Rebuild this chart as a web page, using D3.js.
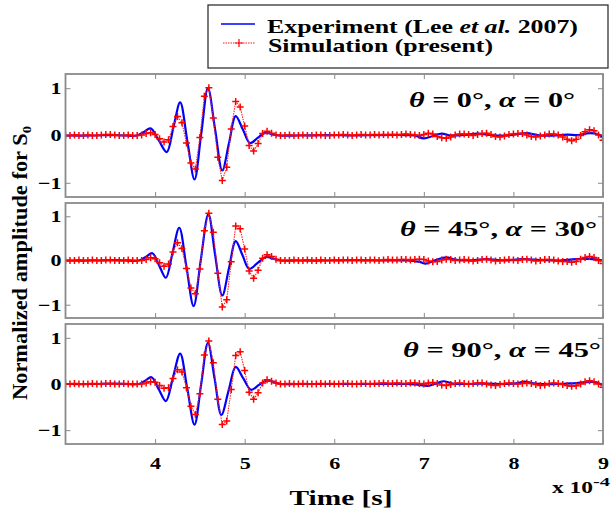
<!DOCTYPE html>
<html>
<head>
<meta charset="utf-8">
<script src="https://cdn.jsdelivr.net/npm/d3@7"></script>
<style>
  body { margin: 0; background: #fff; }
  svg text { font-family: "Liberation Serif", "Times New Roman", Times, serif; font-weight: bold; }
</style>
</head>
<body>
<div id="chart"></div>
<script>
// time is in units of 1e-4 s
var xTicks = [4, 5, 6, 7, 8, 9];
var yTicks = [-1, 0, 1];
var thetaVals = ["0", "45", "90"];
var alphaVals = ["0", "30", "45"];

// Experiment (Lee et al. 2007)
var expTime1 = [3.0,3.3,3.55,3.8, 3.875,3.95,4.04,4.13,4.205,4.28,4.36,4.44,4.515,4.59, 4.67,4.75,4.825,4.90,4.98,5.06,5.145,5.23,5.305,5.38, 5.6,5.9,6.2,6.5,6.8,6.9,7.0,7.1,7.2,7.3, 7.45,7.6,7.75,7.9,8.05,8.15,8.3,8.45,8.6,8.72, 8.85,8.95,9.0];
var expAmp1  = [0,0,0.01,0, 0.075,0.15,-0.10,-0.35,0.175,0.70,-0.115,-0.93,0.035,1.00, 0.13,-0.74,-0.165,0.41,0.125,-0.16,-0.05,0.06,0.03,0, 0,0.01,0,0.01,0.01,0,-0.06,-0.01,0.04,0, 0.01,0.04,0.01,0,0.03,0.05,0,0,0.02,0.01, 0.05,0.02,-0.04];
var expTime2 = [3.0,3.3,3.55,3.82, 3.895,3.97,4.045,4.12,4.195,4.27,4.35,4.43,4.51,4.595, 4.67,4.75,4.825,4.90,4.975,5.05,5.145,5.24,5.32,5.40, 5.6,5.9,6.2,6.5,6.8,6.95,7.02,7.12,7.25,7.35, 7.5,7.7,7.9,8.1,8.3,8.5,8.7,8.9,9.0];
var expAmp2  = [0,0,0.01,0, 0.08,0.165,-0.11,-0.39,0.175,0.74,-0.145,-1.03,0.01,1.05, 0.13,-0.79,-0.175,0.44,0.125,-0.19,-0.055,0.08,0.04,0, 0,0,0.01,0,0,-0.03,-0.07,0,0.07,0.02, 0,0.03,0,0.03,0.01,0,0.03,0.03,0];
var expTime3 = [3.0,3.3,3.55,3.82, 3.89,3.96,4.04,4.12,4.20,4.28,4.36,4.44,4.515,4.59, 4.665,4.74,4.82,4.90,4.985,5.07,5.16,5.25,5.325,5.40, 5.6,6.0,6.4,6.8,6.95,7.05,7.15,7.22,7.32, 7.5,7.7,7.9,8.05,8.12,8.25,8.5,8.7,8.9,9.0];
var expAmp3  = [0,0,0.01,0, 0.073,0.146,-0.112,-0.37,0.145,0.66,-0.11,-0.88,0.005,0.89, 0.11,-0.67,-0.15,0.37,0.12,-0.125,-0.02,0.08,0.04,0, 0,0,0,0,-0.02,-0.04,0.02,0.06,0.01, 0,0.01,0,0.02,0.05,0.01,0,0.02,0.04,-0.02];

// Simulation (present), sampled every 0.05e-4 s from 3e-4 to 9e-4 s
var simStart = 3, simStep = 0.05;
var simAmp1 = [0,0,0.01,0,0,0.01,0,0,0.01,0.02,0.02,0.01,0,0,0.01,0,
  0,0.01,0.04,0.06,0.02,-0.07,-0.14,-0.09,0.19,0.40,0.27,-0.16,-0.58,-0.71,-0.04,0.83,1.01,0.37,-0.46,-0.95,-0.67,0.14,0.72,0.60,0.20,-0.21,-0.33,-0.17,0.04,0.09,0.05,0.01,0,
  0,0.01,0,0,0.01,0,0,0.01,0.01,0, 0,0.01,0.01,0.02,0.01,0,0.01,0.02,0.01,0.01, 0.02,0.01,0.02,0.01,0.02,0.01,0.02,0.03,0.02,0.01,
  0,0.02,0.05,0.03,-0.02,-0.05,-0.06,-0.03,0.01,0.03, 0.03,0.02,0,0.02,0.04,0.05,0.02,-0.02,-0.03,-0.01, 0.02,0.03,0.04,0.04,0.01,-0.02,-0.03,-0.01,0.01,0.03,
  0.03,0.01,-0.03,-0.08,-0.11,-0.08,0,0.08,0.12,0.10, 0.01,-0.10];
var simAmp2 = [0,0,0,0.01,0,0,0.01,0,0,0.01,0.01,0,0,0,0.01,0,
  0,0,0.02,0.06,0.04,-0.05,-0.13,-0.08,0.19,0.40,0.27,-0.18,-0.62,-0.75,-0.19,0.67,1.07,0.64,-0.29,-1.05,-0.89,-0.03,0.78,0.72,0.26,-0.24,-0.40,-0.22,0.05,0.13,0.09,0.03,0,
  0,0,0.01,0,0,0.01,0,0,0.01,0, 0,0.01,0,0.01,0.01,0,0.01,0.01,0,0.01, 0.01,0,0.01,0.02,0.01,0.01,0.02,0.02,0.01,0.02,
  0.03,0.02,-0.01,-0.03,-0.02,0.01,0.03,0.02,0,0.01, 0.02,0.01,-0.01,0,0.02,0.03,0.01,-0.01,0,0.01, 0.02,0.01,0,0.02,0.03,0.01,-0.01,0,0.02,0.02,
  0.01,-0.01,-0.02,-0.02,-0.04,-0.02,0.03,0.07,0.09,0.07, 0,-0.07];
var simAmp3 = [0,0,0.01,0,0,0,0.01,0,0,0.01,0.01,0,0,0.01,0,0,
  0,0,0.02,0.05,0.04,-0.03,-0.09,-0.08,0.12,0.31,0.26,-0.08,-0.48,-0.66,-0.21,0.63,0.93,0.46,-0.33,-0.88,-0.80,-0.12,0.62,0.70,0.29,-0.18,-0.33,-0.19,0.02,0.09,0.06,0.02,0,
  0,0.01,0,0,0.01,0,0,0,0.01,0, 0.01,0,0,0.01,0.01,0,0,0.01,0.01,0, 0.01,0.01,0.02,0.01,0.01,0.02,0.01,0.01,0.02,0.02,
  0.01,0,0.02,0.03,0.01,-0.02,-0.03,-0.01,0.01,0.02, 0.01,0,0.01,0.02,0.02,0,-0.02,-0.03,-0.01,0.01, 0.02,0.01,0,0.01,0.02,0.01,-0.01,-0.03,-0.02,0.01,
  0.02,0.01,-0.01,-0.03,-0.05,-0.04,0,0.05,0.07,0.05, 0,-0.07];

var expTimes = [expTime1, expTime2, expTime3];
var expAmps = [expAmp1, expAmp2, expAmp3];
var simAmps = [simAmp1, simAmp2, simAmp3];

//Set sizes
var width = 612, height = 518;
var xLeft = 65.5, xRight = 603;
var panelY0 = [74, 203, 324], panelY1 = [197, 318, 444];
var labelX = [409, 400, 403], labelW = [166, 197, 198];
var gridColor = "#8a8a8a";
var serif = "'Liberation Serif', 'Times New Roman', Times, serif";

var svg = d3.select("#chart").append("svg")
  .attr("width", width).attr("height", height)
  .attr("font-family", serif).attr("font-weight", "bold");
svg.append("rect").attr("width", width).attr("height", height).attr("fill", "#fff");

var x = d3.scaleLinear().domain([3, 9]).range([xLeft, xRight]);

function styleAxis(g) {
  g.select(".domain").remove();
  g.selectAll(".tick line").attr("stroke", gridColor).attr("stroke-width", 1);
  g.attr("font-family", serif).attr("font-weight", "bold");
}

function drawPanel(p) {
  var y0 = panelY0[p], y1 = panelY1[p];
  var y = d3.scaleLinear().domain([-1.3, 1.3]).range([y1, y0]);
  var g = svg.append("g");

  g.append("clipPath").attr("id", "clip" + p)
    .append("rect").attr("x", xLeft).attr("y", y0)
    .attr("width", xRight - xLeft).attr("height", y1 - y0);

  //axes with inward ticks
  g.append("g").attr("transform", "translate(0," + y1 + ")")
    .call(d3.axisBottom(x).tickValues(xTicks).tickSizeInner(-5).tickSizeOuter(0)
      .tickFormat(p == 2 ? d3.format("d") : ""))
    .call(styleAxis)
    .selectAll("text")
    .attr("y", 25).attr("dy", null)
    .attr("font-size", 17).attr("fill", "#000")
    .attr("transform", "scale(1.3,1)");
  g.append("g").attr("transform", "translate(0," + y0 + ")")
    .call(d3.axisTop(x).tickValues(xTicks).tickSizeInner(-5).tickSizeOuter(0).tickFormat(""))
    .call(styleAxis);
  g.append("g").attr("transform", "translate(" + xLeft + ",0)")
    .call(d3.axisLeft(y).tickValues(yTicks).tickSizeInner(-5).tickSizeOuter(0)
      .tickFormat(function(d){ return d < 0 ? "\u2212" + Math.abs(d) : d; }))
    .call(styleAxis)
    .selectAll("text")
    .attr("x", null)
    .attr("font-size", 17).attr("fill", "#000")
    .attr("transform", "translate(-4,0) scale(1.3,1)");
  g.append("g").attr("transform", "translate(" + xRight + ",0)")
    .call(d3.axisRight(y).tickValues(yTicks).tickSizeInner(-5).tickSizeOuter(0).tickFormat(""))
    .call(styleAxis);

  var plot = g.append("g").attr("clip-path", "url(#clip" + p + ")");

  //Experiment
  var expData = expTimes[p].map(function(t, i){ return [t, expAmps[p][i]]; });
  plot.append("path")
    .datum(expData)
    .attr("fill", "none")
    .attr("stroke", "#0000ff")
    .attr("stroke-width", 2.2)
    .attr("d", d3.line()
      .x(function(d){ return x(d[0]); })
      .y(function(d){ return y(d[1]); })
      .curve(d3.curveCatmullRom.alpha(0.5)));

  //Simulation
  var simData = simAmps[p].map(function(v, i){ return [simStart + i * simStep, v]; });
  plot.append("path")
    .datum(simData)
    .attr("fill", "none")
    .attr("stroke", "#ff2020")
    .attr("stroke-width", 1.1)
    .attr("stroke-dasharray", "1.5,1")
    .attr("d", d3.line()
      .x(function(d){ return x(d[0]); })
      .y(function(d){ return y(d[1]); }));
  plot.selectAll("path.plus")
    .data(simData)
    .enter()
    .append("path")
    .attr("class", "plus")
    .attr("d", "M-3.5,0H3.5M0,-3.5V3.5")
    .attr("transform", function(d){ return "translate(" + x(d[0]) + "," + y(d[1]) + ")"; })
    .attr("stroke", "#ff0000")
    .attr("stroke-width", 1.5)
    .attr("fill", "none");

  //frame
  g.append("rect")
    .attr("x", xLeft).attr("y", y0)
    .attr("width", xRight - xLeft).attr("height", y1 - y0)
    .attr("fill", "none")
    .attr("stroke", gridColor)
    .attr("stroke-width", 1.8);

  //panel label
  var lab = g.append("text")
    .attr("x", labelX[p]).attr("y", y0 + 33)
    .attr("font-size", 21)
    .attr("textLength", labelW[p])
    .attr("lengthAdjust", "spacingAndGlyphs");
  lab.append("tspan").attr("font-style", "italic").text("\u03b8");
  lab.append("tspan").text(" = " + thetaVals[p] + "\u00b0, ");
  lab.append("tspan").attr("font-style", "italic").text("\u03b1");
  lab.append("tspan").text(" = " + alphaVals[p] + "\u00b0");
}

for (var p = 0; p < 3; p++) drawPanel(p);

//x label and exponent
svg.append("text")
  .attr("x", 341).attr("y", 505)
  .attr("text-anchor", "middle")
  .attr("font-size", 22)
  .attr("textLength", 103).attr("lengthAdjust", "spacingAndGlyphs")
  .text("Time [s]");
svg.append("text")
  .attr("x", 552).attr("y", 493)
  .attr("font-size", 16)
  .attr("textLength", 41).attr("lengthAdjust", "spacingAndGlyphs")
  .text("x 10");
svg.append("text")
  .attr("x", 593).attr("y", 486)
  .attr("font-size", 12)
  .attr("textLength", 17).attr("lengthAdjust", "spacingAndGlyphs")
  .text("-4");

//y label
var yLab = svg.append("text")
  .attr("transform", "translate(27,263) rotate(-90)")
  .attr("text-anchor", "middle")
  .attr("font-size", 20)
  .attr("textLength", 274).attr("lengthAdjust", "spacingAndGlyphs");
yLab.append("tspan").text("Normalized  amplitude  for  S");
yLab.append("tspan").attr("font-size", 13).attr("dy", 4).text("0");

//legend
var leg = svg.append("g");
leg.append("rect")
  .attr("x", 208).attr("y", 5).attr("width", 400).attr("height", 63)
  .attr("fill", "#fff").attr("stroke", "#222").attr("stroke-width", 1.2);
leg.append("line")
  .attr("x1", 221).attr("x2", 255).attr("y1", 24).attr("y2", 24)
  .attr("stroke", "#0000ff").attr("stroke-width", 1.5);
leg.append("line")
  .attr("x1", 223).attr("x2", 255).attr("y1", 43).attr("y2", 43)
  .attr("stroke", "#ff0000").attr("stroke-width", 0.9).attr("stroke-dasharray", "1.5,1");
leg.append("path")
  .attr("d", "M-4,0H4M0,-4V4")
  .attr("transform", "translate(239,43)")
  .attr("stroke", "#ff0000").attr("stroke-width", 1.2);
var t1 = leg.append("text")
  .attr("x", 267).attr("y", 33)
  .attr("font-size", 19)
  .attr("textLength", 311).attr("lengthAdjust", "spacingAndGlyphs");
t1.append("tspan").text("Experiment  (Lee ");
t1.append("tspan").attr("font-style", "italic").text("et al.");
t1.append("tspan").text(" 2007)");
leg.append("text")
  .attr("x", 268).attr("y", 52)
  .attr("font-size", 19)
  .attr("textLength", 225).attr("lengthAdjust", "spacingAndGlyphs")
  .text("Simulation  (present)");
</script>
</body>
</html>
